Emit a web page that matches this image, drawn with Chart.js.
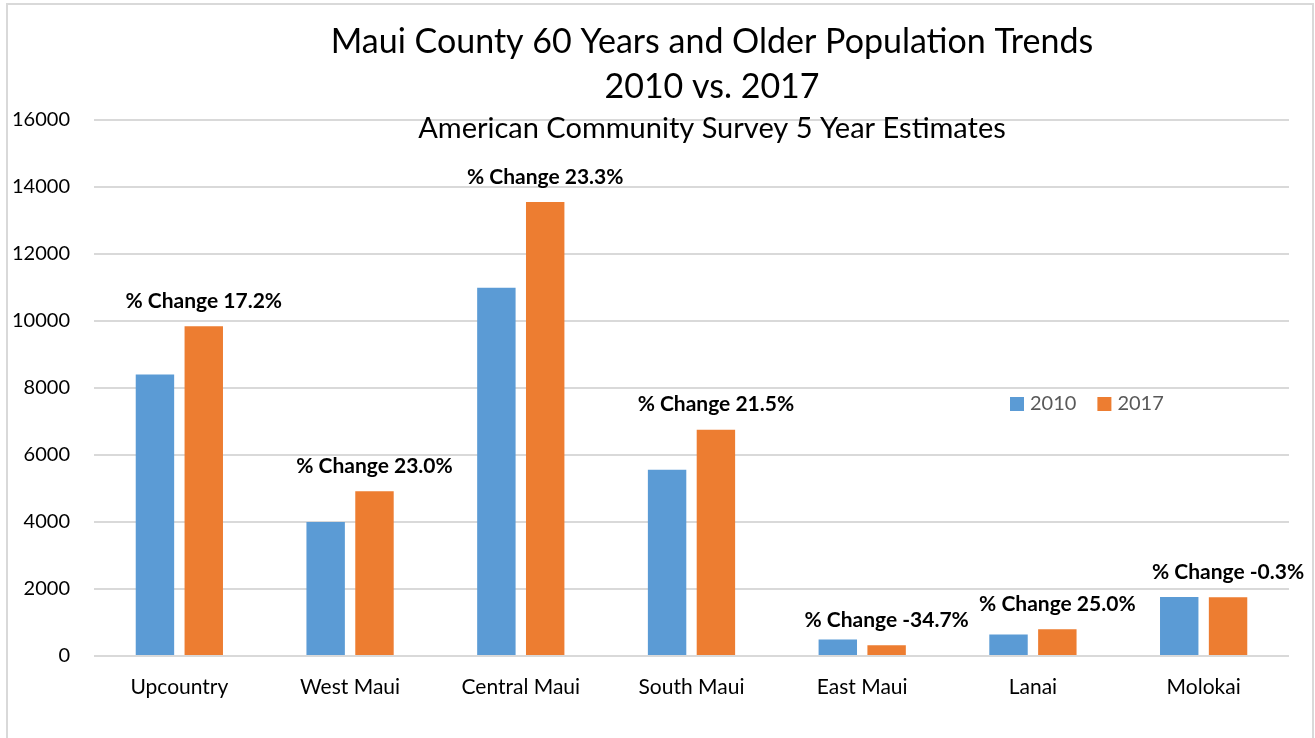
<!DOCTYPE html>
<html>
<head>
<meta charset="utf-8">
<script src="https://cdn.jsdelivr.net/npm/chart.js@4/dist/chart.umd.min.js"></script>
<style>
  body { margin: 0; background: #fff; }
  #wrap { position: relative; width: 1315px; height: 738px; overflow: hidden; }
  #frame { position: absolute; left: 6px; top: 3px; width: 1304px; height: 800px;
           border: 2px solid #d9d9d9; pointer-events: none; }
</style>
</head>
<body>
<div id="wrap">
  <canvas id="chart" width="1315" height="738"></canvas>
  <div id="frame"></div>
</div>
<script>
const regions = ["Upcountry", "West Maui", "Central Maui", "South Maui", "East Maui", "Lanai", "Molokai"];
const pop2010 = [8400, 4000, 10990, 5560, 490, 640, 1760];
const pop2017 = [9845, 4920, 13550, 6755, 320, 800, 1755];
const pctChange = ["17.2%", "23.0%", "23.3%", "21.5%", "-34.7%", "25.0%", "-0.3%"];
const titleLines = ["Maui County 60 Years and Older Population Trends", "2010 vs. 2017"];
const subtitleText = "American Community Survey 5 Year Estimates";

const FONT = "Lato, 'Open Sans', sans-serif";

// title block, centred a little right of the canvas middle like the original
const titleBlock = {
  id: "titleBlock",
  afterDraw(chart) {
    const ctx = chart.ctx;
    const cx = 712;
    ctx.save();
    ctx.fillStyle = "#000";
    ctx.textAlign = "center";
    ctx.textBaseline = "middle";
    ctx.font = "34px " + FONT;
    ctx.fillText(titleLines[0], cx, 42);
    ctx.fillText(titleLines[1], cx, 87);
    ctx.font = "29px " + FONT;
    ctx.fillText(subtitleText, cx, 129);
    ctx.restore();
  }
};

// % change labels above the 2017 bars
const changeLabels = {
  id: "changeLabels",
  afterDatasetsDraw(chart) {
    const ctx = chart.ctx;
    const meta = chart.getDatasetMeta(1);
    ctx.save();
    ctx.font = "bold 21px " + FONT;
    ctx.fillStyle = "#000";
    ctx.textAlign = "center";
    ctx.textBaseline = "middle";
    meta.data.forEach((bar, i) => {
      ctx.fillText("% Change " + pctChange[i], bar.x, bar.y - 25);
    });
    ctx.restore();
  }
};

// legend sits inside the plot area
const innerLegend = {
  id: "innerLegend",
  afterDraw(chart) {
    const ctx = chart.ctx;
    ctx.save();
    ctx.font = "20px " + FONT;
    ctx.textBaseline = "middle";
    let x = 1010;
    const y = 404;
    chart.data.datasets.forEach(ds => {
      ctx.fillStyle = ds.backgroundColor;
      ctx.fillRect(x, y - 7, 14, 14);
      ctx.fillStyle = "#595959";
      ctx.fillText(ds.label, x + 20, y);
      x += 20 + ctx.measureText(ds.label).width + 21;
    });
    ctx.restore();
  }
};

new Chart(document.getElementById("chart"), {
  type: "bar",
  data: {
    labels: regions,
    datasets: [
      { label: "2010", data: pop2010, backgroundColor: "#5b9bd5" },
      { label: "2017", data: pop2017, backgroundColor: "#ed7d31" }
    ]
  },
  options: {
    responsive: false,
    animation: false,
    categoryPercentage: 0.572,
    barPercentage: 0.787,
    layout: { padding: { top: 120, right: 26, left: 0, bottom: 0 } },
    plugins: {
      legend: { display: false },
      tooltip: { enabled: false }
    },
    scales: {
      x: {
        grid: { display: false, drawTicks: false },
        border: { display: false },
        ticks: { color: "#000", font: { family: FONT, size: 21 }, padding: 19 },
        afterFit(s) { s.height = 82; }
      },
      y: {
        min: 0,
        max: 16000,
        grid: { color: "#d9d9d9", lineWidth: 2, drawTicks: false },
        border: { display: false },
        ticks: {
          stepSize: 2000,
          color: "#000",
          font: { family: FONT, size: 20 },
          padding: 24,
          callback: v => String(v)
        },
        afterFit(s) { s.width = 94; }
      }
    }
  },
  plugins: [titleBlock, changeLabels, innerLegend]
});
</script>
</body>
</html>
